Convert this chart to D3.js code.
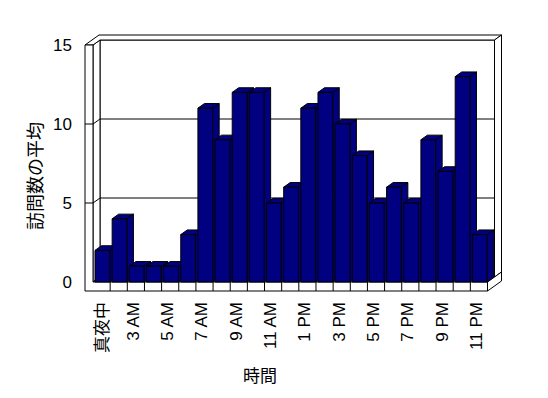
<!DOCTYPE html>
<html>
<head>
<meta charset="utf-8">
<script src="https://cdn.jsdelivr.net/npm/d3@7"></script>
<style>
  html, body { margin: 0; padding: 0; background: #fff; }
  svg { display: block; }
  text { font-family: "Liberation Sans", Arial, "Noto Sans CJK JP", sans-serif; fill: #000; -webkit-font-smoothing: antialiased; }
</style>
</head>
<body>
<script>
// ---- data ----
const categories = ["真夜中", "1 AM", "3 AM", "4 AM", "5 AM", "6 AM", "7 AM", "8 AM", "9 AM", "10 AM", "11 AM",
  "12 PM", "1 PM", "2 PM", "3 PM", "4 PM", "5 PM", "6 PM", "7 PM", "8 PM", "9 PM", "10 PM", "11 PM"];
const visits = [2, 4, 1, 1, 1, 3, 11, 9, 12, 12, 5, 6, 11, 12, 10, 8, 5, 6, 5, 9, 7, 13, 3];
const yTicks = [0, 5, 10, 15];
const yTitle = "訪問数の平均";
const xTitle = "時間";

// ---- layout ----
const W = 548, H = 398;
const svg = d3.select("body").append("svg").attr("width", W).attr("height", H);

const y = d3.scaleLinear().domain([0, 15]).range([282, 45]);
const x = d3.scaleBand().domain(categories).range([93, 487.5]).padding(0);
const DX = 7, DY = -5;          // one depth unit (front -> back wall)
const wallOuterX = 85;          // left wall outer face
const floorBottom = 291;
const yMax = y.domain()[1];

const pt = (px, py, d) => [px + DX * d, py + DY * d];
const poly = pts => "M" + pts.map(p => p.join(",")).join("L") + "Z";
const pl = pts => "M" + pts.map(p => p.join(",")).join("L");

const x0 = x.range()[0], x1 = x.range()[1];
const g = svg.append("g").attr("stroke", "#000").attr("stroke-width", 1).attr("fill", "#fff");

// back wall front face
g.append("path").attr("d", poly([pt(x0, y(yMax), 1), pt(x1, y(yMax), 1), pt(x1, y(0), 1), pt(x0, y(0), 1)]));
// left wall inner face
g.append("path").attr("d", poly([pt(x0, y(yMax), 0), pt(x0, y(yMax), 1), pt(x0, y(0), 1), pt(x0, y(0), 0)]));
// floor top face
g.append("path").attr("d", poly([pt(x0, y(0), 0), pt(x1, y(0), 0), pt(x1, y(0), 1), pt(x0, y(0), 1)]));
// top faces of left wall + back wall
g.append("path").attr("d", poly([pt(wallOuterX, y(yMax), 0), pt(x0, y(yMax), 0), pt(x0, y(yMax), 1),
  pt(x1, y(yMax), 1), pt(x1, y(yMax), 2), pt(wallOuterX, y(yMax), 2)]));
// back wall right end face
g.append("path").attr("d", poly([pt(x1, y(yMax), 1), pt(x1, y(yMax), 2), pt(x1, y(0), 2), pt(x1, y(0), 1)]));
// floor right end face
g.append("path").attr("d", poly([pt(x1, y(0), 0), pt(x1, y(0), 2), pt(x1, floorBottom, 2), pt(x1, floorBottom, 0)]));
// left wall front face + floor front face
g.append("path").attr("d", poly([[wallOuterX, y(yMax)], [x0, y(yMax)], [x0, y(0)], [x1, y(0)],
  [x1, floorBottom], [wallOuterX, floorBottom]]));
// category dividers on the floor front face
g.selectAll("path.div").data(categories.slice(1)).join("path").attr("class", "div")
  .attr("d", c => pl([[x(c), y(0)], [x(c), floorBottom]]));

// gridlines (wall front edge -> side wall -> back wall)
g.selectAll("path.grid").data(yTicks.filter(v => v > 0 && v < yMax)).join("path").attr("class", "grid")
  .attr("fill", "none")
  .attr("d", v => pl([[wallOuterX, y(v)], [x0, y(v)], pt(x0, y(v), 1), pt(x1, y(v), 1)]));

// bars
const barOff = 2, barW = x.bandwidth() - 2.4, bd = 0.93;
const bars = svg.append("g").attr("stroke", "#000").attr("stroke-width", 1).attr("fill", "#000080")
  .attr("stroke-linejoin", "miter");
categories.forEach((c, i) => {
  const v = visits[i];
  const bx = x(c) + barOff, bx2 = bx + barW, top = y(v), base = y(0);
  const b = bars.append("g");
  b.append("path").attr("d", poly([[bx2, top], pt(bx2, top, bd), pt(bx2, base, bd), [bx2, base]]));
  b.append("path").attr("d", poly([[bx, top], [bx2, top], pt(bx2, top, bd), pt(bx, top, bd)]));
  b.append("path").attr("d", poly([[bx, top], [bx2, top], [bx2, base], [bx, base]]));
});

// y tick labels
svg.append("g").selectAll("text").data(yTicks).join("text")
  .attr("x", 72).attr("y", v => y(v)).attr("dy", "0.35em")
  .attr("text-anchor", "end").attr("font-size", 17).text(d => d);

// x tick labels (every other category)
const isCJK = s => /[^\x00-\x7F]/.test(s);
svg.append("g").selectAll("text").data(categories.filter((c, i) => i % 2 === 0)).join("text")
  .attr("transform", c => `translate(${x(c) + x.bandwidth() / 2 + 3},302) rotate(-90)`)
  .attr("dy", c => isCJK(c) ? "0.2em" : null)
  .attr("fill", "#000")
  .attr("text-anchor", "end").attr("font-size", 17).text(d => d);

// axis titles
svg.append("text").attr("transform", "translate(42,176) rotate(-90)")
  .attr("text-anchor", "middle").attr("font-size", 18).text(yTitle);
svg.append("text").attr("x", 260).attr("y", 382)
  .attr("text-anchor", "middle").attr("font-size", 17).text(xTitle);
</script>
</body>
</html>
